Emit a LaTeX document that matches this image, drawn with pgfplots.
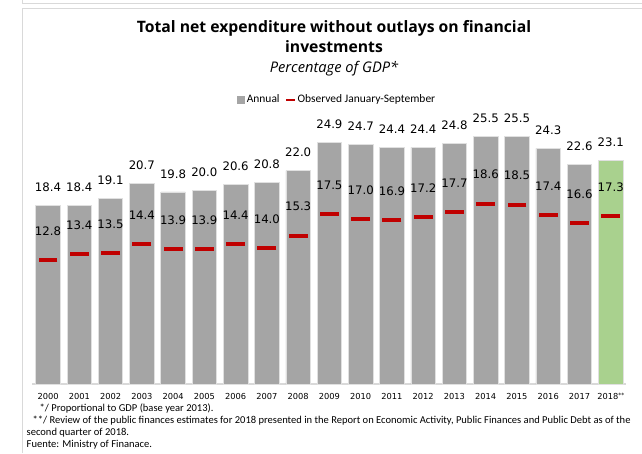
\documentclass[border=0pt]{standalone}
\usepackage{pgfplots}
\pgfplotsset{compat=1.18}
\usepackage{fontspec}
\setmainfont{Open Sans}
\newfontfamily\lab{DejaVu Sans}
\newfontfamily\foot{Carlito}
\definecolor{barg}{HTML}{A5A5A5}
\definecolor{bargreen}{HTML}{A9D18E}
\definecolor{redm}{HTML}{C00000}
\definecolor{frame}{HTML}{D9D9D9}
\begin{document}
\begin{tikzpicture}
\path[use as bounding box] (0,0) rectangle (481.5pt,-339.75pt);
\begin{scope}[x=0.75pt,y=-0.75pt]
\draw[frame,line width=1.1pt] (22.5,0) -- (22.5,3.5) -- (642,3.5);
\draw[frame,line width=1.1pt] (22.5,453) -- (22.5,8.5) -- (642,8.5);
\node[font=\bfseries\fontsize{11.8}{15.6}\selectfont,align=center] at (334,36.5) {Total net expenditure without outlays on financial\\investments};
\node[font=\itshape\fontsize{11}{13}\selectfont] at (334,69) {Percentage of GDP*};
\node[font=\foot\fontsize{7.9}{9}\selectfont,anchor=west] at (35,408) {*/ Proportional to GDP (base year 2013).};
\node[font=\foot\fontsize{7.9}{9}\selectfont,anchor=west] at (28,421) {**/ Review of the public finances estimates for 2018 presented in the Report on Economic Activity, Public Finances and Public Debt as of the};
\node[font=\foot\fontsize{7.9}{9}\selectfont,anchor=west] at (22,433) {second quarter of 2018.};
\node[font=\foot\fontsize{7.9}{9}\selectfont,anchor=west] at (22,445) {Fuente: Ministry of Finanace.};
\end{scope}
\begin{axis}[
  at={(24.3pt,-288pt)}, anchor=south west,
  scale only axis, width=445.5pt, height=196.4pt,
  xmin=-0.5, xmax=18.5, ymin=0, ymax=27,
  axis y line=none, axis x line*=bottom,
  x axis line style={draw=frame,line width=0.8pt,-},
  xtick={0,...,18}, major tick length=0pt,
  xticklabels={2000,2001,2002,2003,2004,2005,2006,2007,2008,2009,2010,2011,2012,2013,2014,2015,2016,2017,{2018{\fontsize{4.5}{5}\selectfont\raisebox{1.2pt}{**}}}},
  xticklabel style={font=\lab\fontsize{6.2}{7}\selectfont, text depth=0pt, yshift=-3.5pt},
  legend style={at={(0.5,1)}, anchor=south, xshift=6pt, yshift=11pt, draw=none, fill=none,
    font=\foot\fontsize{8.6}{9}\selectfont, legend columns=-1, inner sep=0pt,
    /tikz/every even column/.append style={column sep=3pt}},
  legend cell align=left,
  clip=false,
  /pgf/number format/assume math mode=true,
]
\addlegendimage{legend image code/.code={\fill[barg] (0pt,-2.5pt) rectangle (5pt,2.5pt);}}
\addlegendentry{Annual}
\addlegendimage{legend image code/.code={\fill[redm] (0pt,-0.4pt) rectangle (6pt,0.4pt);}}
\addlegendentry{Observed January-September}
\addplot[ybar, bar shift=0pt, bar width=18.4pt, fill=barg, draw=white!88!black, line width=0.5pt, forget plot,
  nodes near coords, every node near coord/.append style={font=\lab\fontsize{8.8}{10}\selectfont, text depth=0pt, inner sep=0pt, yshift=10.2pt},
  nodes near coords align={above},
  /pgf/number format/.cd, fixed, fixed zerofill, precision=1, assume math mode=true]
coordinates {(0,18.4) (1,18.4) (2,19.1) (3,20.7) (4,19.8) (5,20.0) (6,20.6) (7,20.8) (8,22.0) (9,24.9) (10,24.7) (11,24.4) (12,24.4) (13,24.8) (14,25.5) (15,25.5) (16,24.3) (17,22.6)};
\addplot[ybar, bar shift=0pt, bar width=18.4pt, fill=bargreen, draw=white!88!black, line width=0.5pt, forget plot,
  nodes near coords, every node near coord/.append style={font=\lab\fontsize{8.8}{10}\selectfont, text depth=0pt, inner sep=0pt, yshift=10.2pt},
  nodes near coords align={above},
  /pgf/number format/.cd, fixed, fixed zerofill, precision=1, assume math mode=true]
coordinates {(18,23.1)};
\addplot[only marks, mark=-, mark size=7.1pt, mark options={line width=3pt, draw=redm}, color=redm, forget plot,
  nodes near coords, every node near coord/.append style={font=\lab\fontsize{8.8}{10}\selectfont, text depth=0pt, inner sep=0pt, yshift=17pt, black},
  nodes near coords align={above},
  /pgf/number format/.cd, fixed, fixed zerofill, precision=1, assume math mode=true]
coordinates {(0,12.8) (1,13.4) (2,13.5) (3,14.4) (4,13.9) (5,13.9) (6,14.4) (7,14.0) (8,15.3) (9,17.5) (10,17.0) (11,16.9) (12,17.2) (13,17.7) (14,18.6) (15,18.5) (16,17.4) (17,16.6) (18,17.3)};
\end{axis}
\end{tikzpicture}
\end{document}
